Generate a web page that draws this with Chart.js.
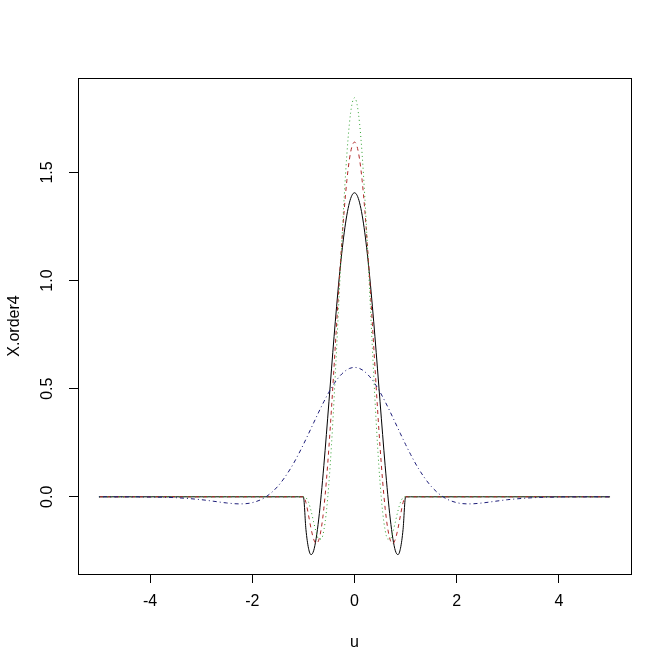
<!DOCTYPE html>
<html>
<head>
<meta charset="utf-8">
<script src="https://cdn.jsdelivr.net/npm/chart.js@4"></script>
<style>
  html, body { margin: 0; padding: 0; background: #fff; }
  #wrap { width: 672px; height: 672px; }
</style>
</head>
<body>
<div id="wrap"><canvas id="chart" width="672" height="672"></canvas></div>
<script>
// Data
const uValues = [
  -5, -4.5, -4, -3.5, -3, -2.75, -2.5, -2.25, -2, -1.75, -1.5, -1.25, -1.1,
  -1, -0.95, -0.9, -0.85, -0.8, -0.75, -0.7, -0.65, -0.6, -0.55, -0.5, -0.45, -0.4,
  -0.35, -0.3, -0.25, -0.2, -0.15, -0.1, -0.05, 0, 0.05, 0.1, 0.15, 0.2, 0.25, 0.3,
  0.35, 0.4, 0.45, 0.5, 0.55, 0.6, 0.65, 0.7, 0.75, 0.8, 0.85, 0.9, 0.95, 1,
  1.1, 1.25, 1.5, 1.75, 2, 2.25, 2.5, 2.75, 3, 3.5, 4, 4.5, 5
];

const epanechnikov4 = [
  0, 0, 0, 0, 0, 0, 0, 0, 0, 0, 0, 0, 0,
  0, -0.1516, -0.2378, -0.2676, -0.2498, -0.1923, -0.1028, 0.0115, 0.144, 0.2885, 0.4395, 0.5916, 0.7403,
  0.8813, 1.011, 1.1261, 1.224, 1.3025, 1.3597, 1.3945, 1.4063, 1.3945, 1.3597, 1.3025, 1.224, 1.1261, 1.011,
  0.8813, 0.7403, 0.5916, 0.4395, 0.2885, 0.144, 0.0115, -0.1028, -0.1923, -0.2498, -0.2676, -0.2378, -0.1516, 0,
  0, 0, 0, 0, 0, 0, 0, 0, 0, 0, 0, 0, 0
];

const biweight4 = [
  0, 0, 0, 0, 0, 0, 0, 0, 0, 0, 0, 0, 0,
  0, -0.0266, -0.0847, -0.1475, -0.1956, -0.2159, -0.2006, -0.1464, -0.0538, 0.0738, 0.2307, 0.4096, 0.602,
  0.799, 0.9918, 1.1716, 1.3306, 1.4618, 1.5597, 1.6202, 1.6406, 1.6202, 1.5597, 1.4618, 1.3306, 1.1716, 0.9918,
  0.799, 0.602, 0.4096, 0.2307, 0.0738, -0.0538, -0.1464, -0.2006, -0.2159, -0.1956, -0.1475, -0.0847, -0.0266, 0,
  0, 0, 0, 0, 0, 0, 0, 0, 0, 0, 0, 0, 0
];

const triweight4 = [
  0, 0, 0, 0, 0, 0, 0, 0, 0, 0, 0, 0, 0,
  0, -0.004, -0.0249, -0.065, -0.116, -0.1642, -0.1951, -0.1952, -0.1548, -0.0684, 0.0649, 0.2411, 0.4522,
  0.687, 0.9319, 1.1723, 1.3935, 1.5817, 1.7252, 1.8151, 1.8457, 1.8151, 1.7252, 1.5817, 1.3935, 1.1723, 0.9319,
  0.687, 0.4522, 0.2411, 0.0649, -0.0684, -0.1548, -0.1952, -0.1951, -0.1642, -0.116, -0.065, -0.0249, -0.004, 0,
  0, 0, 0, 0, 0, 0, 0, 0, 0, 0, 0, 0, 0
];

const gaussian4 = [
  -0.00002, -0.00014, -0.00087, -0.00404, -0.0133, -0.02075, -0.02848, -0.03273, -0.027, -0.0027, 0.04857, 0.13128, 0.19498,
  0.24197, 0.26644, 0.29136, 0.31656, 0.34184, 0.36701, 0.39188, 0.41623, 0.43986, 0.46255, 0.48409, 0.50428, 0.52294,
  0.53988, 0.55492, 0.56792, 0.57874, 0.58728, 0.59344, 0.59716, 0.59841, 0.59716, 0.59344, 0.58728, 0.57874, 0.56792, 0.55492,
  0.53988, 0.52294, 0.50428, 0.48409, 0.46255, 0.43986, 0.41623, 0.39188, 0.36701, 0.34184, 0.31656, 0.29136, 0.26644, 0.24197,
  0.19498, 0.13128, 0.04857, -0.0027, -0.027, -0.03273, -0.02848, -0.02075, -0.0133, -0.00404, -0.00087, -0.00014, -0.00002
];

const xTicks = [-4, -2, 0, 2, 4];
const yTicks = [0, 0.5, 1, 1.5];

const FONT = '"Liberation Sans", Arial, sans-serif';

function toPoints(vals) {
  return uValues.map((u, i) => ({ x: u, y: vals[i] }));
}

function series(vals, color, dash) {
  return {
    data: toPoints(vals),
    borderColor: color,
    borderWidth: 1,
    borderDash: dash,
    pointRadius: 0,
    fill: false,
    cubicInterpolationMode: 'monotone'
  };
}

// drawn last-to-first, so the blue curve ends up on top like in R's matplot
const datasets = [
  series(gaussian4, '#1c1c78', [1, 3, 4, 3]),
  series(triweight4, '#2ea02e', [1, 3]),
  series(biweight4, '#b02828', [4, 4]),
  series(epanechnikov4, '#000000', [])
];

// box, y tick labels and axis titles, R style
const rAxes = {
  id: 'rAxes',
  afterDraw(chart) {
    const ctx = chart.ctx;
    const a = chart.chartArea;
    const ys = chart.scales.y;
    ctx.save();
    ctx.strokeStyle = '#000';
    ctx.lineWidth = 1;
    ctx.strokeRect(Math.round(a.left) + 0.5, Math.round(a.top) + 0.5,
      Math.round(a.right - a.left), Math.round(a.bottom - a.top));

    ctx.fillStyle = '#000';
    ctx.font = '16px ' + FONT;
    ctx.textAlign = 'center';
    ctx.textBaseline = 'middle';
    ys.ticks.forEach(t => {
      const py = ys.getPixelForValue(t.value);
      ctx.save();
      ctx.translate(48, py);
      ctx.rotate(-Math.PI / 2);
      ctx.fillText(t.value.toFixed(1), 0, 0);
      ctx.restore();
    });

    ctx.fillText('u', (a.left + a.right) / 2, 643);
    ctx.save();
    ctx.translate(15, (a.top + a.bottom) / 2);
    ctx.rotate(-Math.PI / 2);
    ctx.fillText('X.order4', 0, 0);
    ctx.restore();
    ctx.restore();
  }
};

new Chart(document.getElementById('chart'), {
  type: 'line',
  data: { datasets: datasets },
  options: {
    responsive: false,
    animation: false,
    layout: { padding: { top: 78, right: 41, left: 0, bottom: 0 } },
    plugins: {
      legend: { display: false },
      tooltip: { enabled: false }
    },
    scales: {
      x: {
        type: 'linear',
        min: -5.41,
        max: 5.41,
        afterBuildTicks: s => { s.ticks = xTicks.map(v => ({ value: v })); },
        afterFit: s => { s.height = 98; },
        grid: { drawOnChartArea: false, drawTicks: true, tickLength: 9, color: '#000' },
        border: { display: false },
        ticks: {
          color: '#000',
          font: { family: FONT, size: 16 },
          padding: 9,
          maxRotation: 0,
          callback: v => String(v)
        }
      },
      y: {
        type: 'linear',
        min: -0.357,
        max: 1.937,
        afterBuildTicks: s => { s.ticks = yTicks.map(v => ({ value: v })); },
        afterFit: s => { s.width = 78; },
        grid: { drawOnChartArea: false, drawTicks: true, tickLength: 9, color: '#000' },
        border: { display: false },
        ticks: { display: false }
      }
    }
  },
  plugins: [rAxes]
});
</script>
</body>
</html>
